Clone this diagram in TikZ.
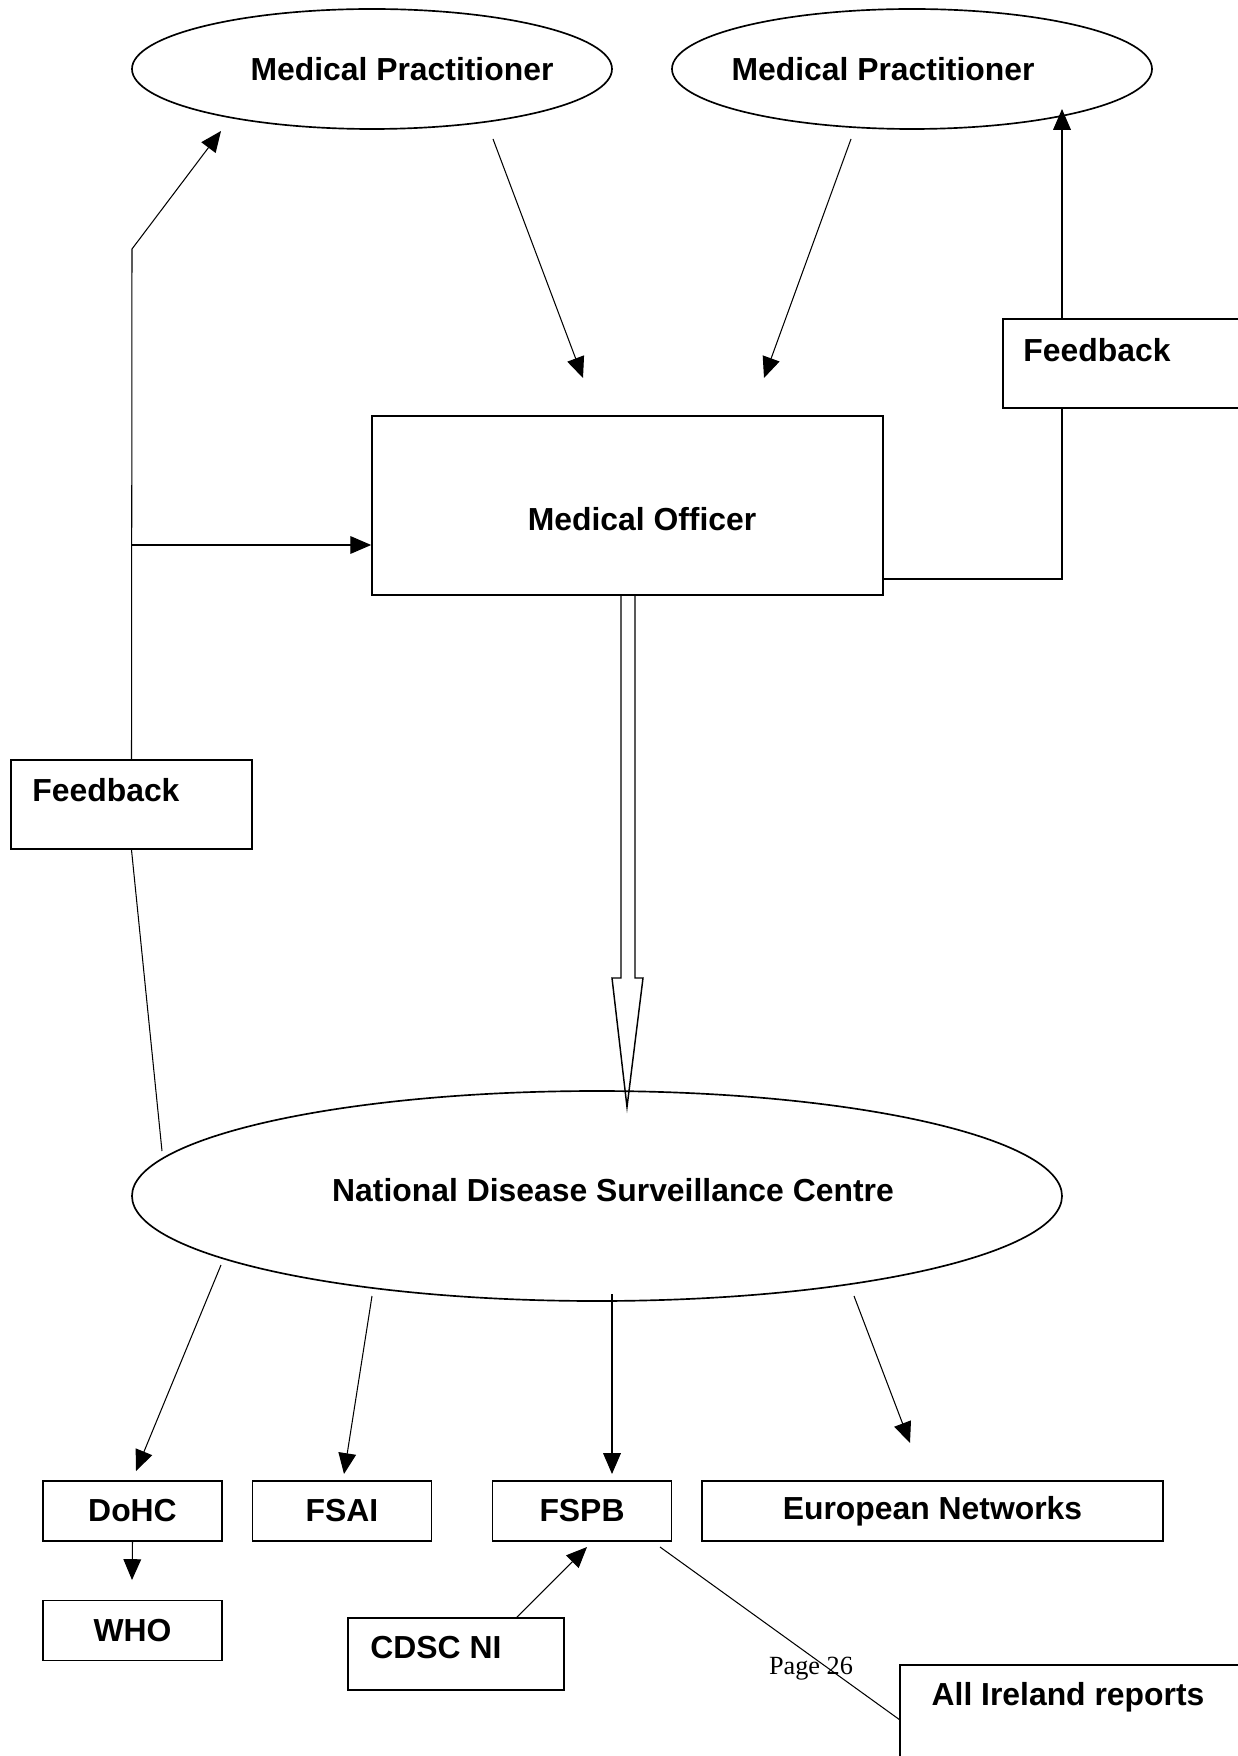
\documentclass[tikz,border=0pt]{standalone}
\usepackage{fontspec}
\setmainfont{Liberation Sans}
\newfontfamily\pagefont{Liberation Serif}
\usetikzlibrary{shapes.geometric,arrows.meta}
\begin{document}
\begin{tikzpicture}[x=0.48pt,y=-0.48pt,
  shapeline/.style={draw, line width=0.8pt},
  oval/.style={shapeline, ellipse, inner sep=0pt},
  boxnode/.style={shapeline, rectangle, inner sep=0pt},
  lbl/.style={font=\bfseries\fontsize{15.3}{18}\selectfont, inner sep=0pt},
  conn/.style={line width=0.5pt},
  arr/.style={conn, -{Triangle[length=10pt,width=8.5pt]}},
]
\useasboundingbox (0,0) rectangle (1238,1756);

% ellipses
\node[oval, minimum width=230.4pt, minimum height=57.6pt] (mpl) at (372,69) {};
\node[lbl] (mpltext) at (402,69) {Medical Practitioner};
\node[oval, minimum width=230.4pt, minimum height=57.6pt] (mpr) at (912,69) {};
\node[lbl] (mprtext) at (883,69) {Medical Practitioner};

% medical officer
\node[boxnode, minimum width=245.28pt, minimum height=85.92pt] (mo) at (627.5,505.5) {};
\node[lbl] (motext) at (642,519) {Medical Officer};

% feedback boxes
\node[boxnode, minimum width=118.56pt, minimum height=42.72pt] (fbr) at (1126.5,363.5) {};
\node[lbl, anchor=west] (fbrtext) at (1023,350) {Feedback};
\node[boxnode, minimum width=115.68pt, minimum height=42.72pt] (fbl) at (131.5,804.5) {};
\node[lbl, anchor=west] (fbltext) at (32,790) {Feedback};

% NDSC
\node[oval, minimum width=446.4pt, minimum height=100.8pt] (ndsc) at (597,1196) {};
\node[lbl] (ndsctext) at (613,1190) {National Disease Surveillance Centre};

% bottom boxes
\node[boxnode, minimum width=85.92pt, minimum height=28.8pt, lbl, shapeline] (dohc) at (132.5,1511) {DoHC};
\node[boxnode, minimum width=85.92pt, minimum height=28.8pt, lbl, shapeline] (fsai) at (342,1511) {FSAI};
\node[boxnode, minimum width=85.92pt, minimum height=28.8pt, lbl, shapeline] (fspb) at (582,1511) {FSPB};
\node[boxnode, minimum width=221.28pt, minimum height=28.8pt, lbl, shapeline] (en) at (932.5,1511) {European Networks};
\node[boxnode, minimum width=85.92pt, minimum height=28.8pt, lbl, shapeline] (who) at (132.5,1630.5) {WHO};
\node[boxnode, minimum width=103.68pt, minimum height=34.56pt] (cdsc) at (456,1654) {};
\node[lbl, anchor=west] (cdsctext) at (370,1648) {CDSC NI};
\node[boxnode, minimum width=168pt, minimum height=50.4pt] (air) at (1075,1717.5) {};
\node[lbl] (airtext) at (1068,1697) {All Ireland reports};

\node[font=\pagefont\fontsize{12.6}{14}\selectfont, inner sep=0pt] (page) at (811,1669) {Page 26};

% coordinates for free ends
\coordinate (a1s) at (493,139);
\coordinate (a1e) at (583,378);
\coordinate (a2s) at (851,139);
\coordinate (a2e) at (764,378);
\coordinate (lk1) at (132,249);
\coordinate (lk1e) at (221,131);
\coordinate (lbr) at (132,545);
\coordinate (lnd) at (162,1151);
\coordinate (rk1) at (1062,579);
\coordinate (rtip) at (1062,109);
\coordinate (n1s) at (221,1265);
\coordinate (n1e) at (136,1471);
\coordinate (n2s) at (372,1296);
\coordinate (n2e) at (344,1474);
\coordinate (n3s) at (612,1294);
\coordinate (n3e) at (612,1474);
\coordinate (n4s) at (854,1296);
\coordinate (n4e) at (910,1443);
\coordinate (whotip) at (132,1580);
\coordinate (cds) at (516,1618);
\coordinate (cde) at (587,1547);
\coordinate (fps) at (660,1547);
\coordinate (aire) at (900,1720);

% connectors
\draw[arr] (a1s) -- (a1e);
\draw[arr] (a2s) -- (a2e);
\draw[arr] (fbl.north) -- (lk1) -- (lk1e);
\draw[arr] (lbr) -- (lbr -| mo.west);
\draw[conn] (fbl.south) -- (lnd);
\draw[conn] (mo.east |- rk1) -- (rk1) -- (fbr.south -| rk1);
\draw[arr] (fbr.north -| rtip) -- (rtip);

% double (outline) arrow
\draw[line width=0.7pt] (621,595) -- (621,978) -- (612,978) -- (627,1107) -- (643,978) -- (635,978) -- (635,595);

\draw[arr] (n1s) -- (n1e);
\draw[arr] (n2s) -- (n2e);
\draw[arr] (n3s) -- (n3e);
\draw[arr] (n4s) -- (n4e);
\draw[arr] (dohc.south) -- (whotip);
\draw[arr] (cds) -- (cde);
\draw[conn] (fps) -- (aire);
\end{tikzpicture}
\end{document}
